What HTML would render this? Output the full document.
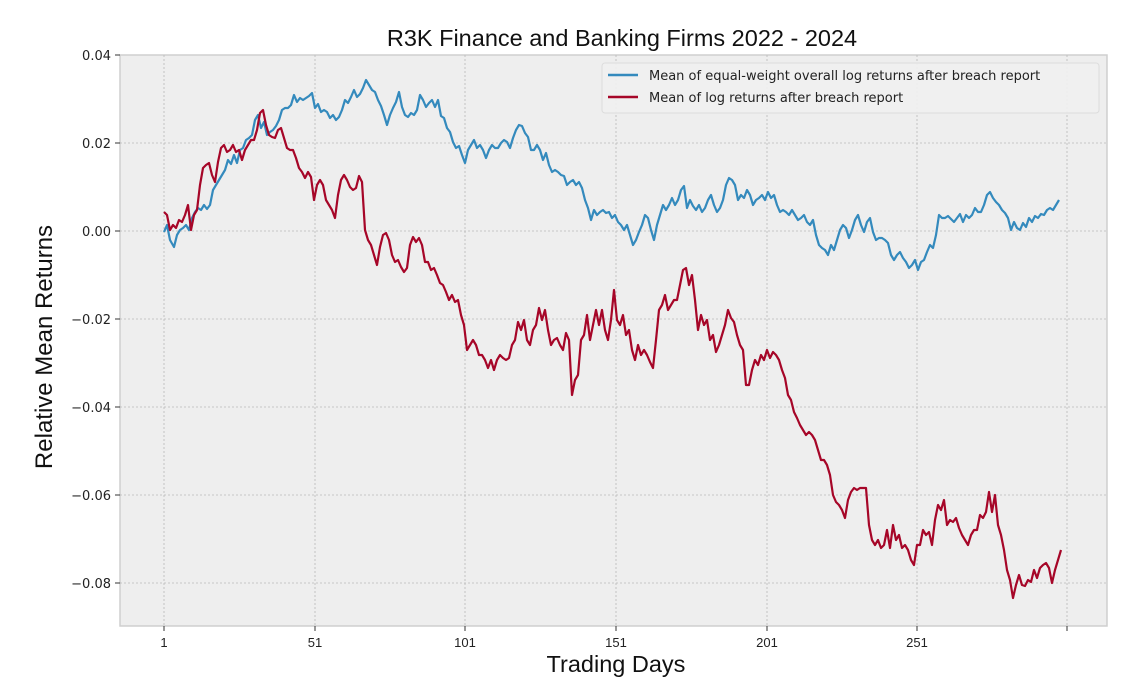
<!DOCTYPE html>
<html><head><meta charset="utf-8"><style>
html,body{margin:0;padding:0;background:#fff;}
svg{display:block;}
</style></head><body>
<svg width="1145" height="696" xmlns="http://www.w3.org/2000/svg">
<rect width="1145" height="696" fill="#fff"/>
<rect x="120" y="55" width="987" height="571" fill="#eeeeee" stroke="#cfcfcf" stroke-width="1.5"/>
<g stroke="#b8b8b8" stroke-width="0.8" stroke-dasharray="2,2">
<line x1="164" y1="55" x2="164" y2="626"/><line x1="315" y1="55" x2="315" y2="626"/><line x1="465" y1="55" x2="465" y2="626"/><line x1="616" y1="55" x2="616" y2="626"/><line x1="767" y1="55" x2="767" y2="626"/><line x1="917" y1="55" x2="917" y2="626"/><line x1="1067" y1="55" x2="1067" y2="626"/>
<line x1="120" y1="143" x2="1107" y2="143"/><line x1="120" y1="231" x2="1107" y2="231"/><line x1="120" y1="319" x2="1107" y2="319"/><line x1="120" y1="407" x2="1107" y2="407"/><line x1="120" y1="495" x2="1107" y2="495"/><line x1="120" y1="583" x2="1107" y2="583"/>
</g>
<g stroke="#333" stroke-width="1">
<line x1="115" y1="55" x2="120" y2="55"/><line x1="115" y1="143" x2="120" y2="143"/><line x1="115" y1="231" x2="120" y2="231"/><line x1="115" y1="319" x2="120" y2="319"/><line x1="115" y1="407" x2="120" y2="407"/><line x1="115" y1="495" x2="120" y2="495"/><line x1="115" y1="583" x2="120" y2="583"/>
<line x1="164" y1="626" x2="164" y2="631"/><line x1="315" y1="626" x2="315" y2="631"/><line x1="465" y1="626" x2="465" y2="631"/><line x1="616" y1="626" x2="616" y2="631"/><line x1="767" y1="626" x2="767" y2="631"/><line x1="917" y1="626" x2="917" y2="631"/><line x1="1067" y1="626" x2="1067" y2="631"/>
</g>
<g font-family="DejaVu Sans, sans-serif" font-size="13" fill="#222" text-anchor="end">
<text x="111" y="60">0.04</text><text x="111" y="148">0.02</text><text x="111" y="236">0.00</text><text x="111" y="324">−0.02</text><text x="111" y="412">−0.04</text><text x="111" y="500">−0.06</text><text x="111" y="588">−0.08</text>
</g>
<g font-family="Liberation Sans, sans-serif" font-size="13" fill="#222" text-anchor="middle">
<text x="164" y="647">1</text><text x="315" y="647">51</text><text x="465" y="647">101</text><text x="616" y="647">151</text><text x="767" y="647">201</text><text x="917" y="647">251</text>
</g>
<text x="622" y="46" font-family="Liberation Sans, sans-serif" font-size="23.5" text-anchor="middle" fill="#111">R3K Finance and Banking Firms 2022 - 2024</text>
<text x="616" y="672" font-family="Liberation Sans, sans-serif" font-size="23.5" text-anchor="middle" fill="#111">Trading Days</text>
<text transform="translate(52,347) rotate(-90)" font-family="Liberation Sans, sans-serif" font-size="24" text-anchor="middle" fill="#111">Relative Mean Returns</text>
<polyline fill="none" stroke="#348abd" stroke-width="2.2" stroke-linejoin="round" points="164,232 167,225 170,240 174,247 177,235 180,230 183,228 186,225 189,230 192,218 195,212 198,208 201,210 204,205 207,209 210,205 213,190 216,185 219,180 222,175 225,170 228,160 231,164 234,155 237,163 240,150 243,148 246,140 249,138 252,135 255,120 258,115 261,128 264,122 267,135 270,132 273,130 276,126 279,120 282,110 285,108 288,108 291,105 294,95 297,102 300,98 303,100 306,98 309,96 312,93 315,108 318,104 321,112 324,110 327,112 330,118 333,115 336,120 339,117 342,110 345,100 348,103 351,97 354,90 357,97 360,94 363,88 366,80 369,85 372,90 375,92 378,100 381,106 384,115 387,125 390,115 393,108 396,102 399,92 402,107 405,115 408,117 411,113 414,115 417,110 420,95 423,100 426,107 429,103 432,100 435,107 438,100 441,116 444,118 447,128 450,132 453,142 456,148 459,146 462,155 465,163 468,150 471,145 474,140 477,148 480,145 483,150 486,158 489,150 492,145 495,148 498,148 501,143 504,140 507,142 510,148 513,138 516,130 519,125 522,126 525,133 528,137 531,150 534,150 537,145 540,150 543,160 546,153 549,165 552,172 555,170 558,172 561,175 564,176 567,185 570,182 573,180 576,185 579,182 582,188 585,200 588,208 591,220 594,210 597,215 600,212 603,210 606,213 609,212 612,218 615,215 618,222 621,225 624,230 627,225 630,235 633,245 636,240 639,232 642,225 645,215 648,218 651,230 654,240 657,225 660,215 663,205 666,210 669,205 672,198 675,205 678,200 681,190 684,186 687,208 690,200 693,206 696,210 699,205 702,212 705,208 708,200 711,195 714,205 717,212 720,208 723,200 726,185 729,178 732,180 735,185 738,200 741,195 744,198 747,190 750,195 753,205 756,200 759,198 762,195 765,200 768,192 771,198 774,195 777,205 780,212 783,210 786,212 789,215 792,210 795,215 798,220 801,218 804,215 807,222 810,225 813,220 816,235 819,245 822,248 825,250 828,255 831,245 834,250 837,240 840,230 843,225 846,228 849,238 852,230 855,220 858,215 861,225 864,232 867,222 870,218 873,232 876,240 879,238 882,238 885,240 888,243 891,255 894,260 897,255 900,252 903,258 906,262 909,268 912,265 915,260 918,270 921,262 924,260 927,252 930,245 933,248 936,235 939,215 942,218 945,218 948,216 951,219 954,222 957,218 960,214 963,222 966,215 969,218 972,215 975,208 978,212 981,212 984,205 987,195 990,192 993,198 996,202 999,205 1002,210 1005,213 1008,218 1011,230 1014,222 1017,228 1020,230 1023,223 1026,227 1029,218 1032,222 1035,216 1038,218 1041,214 1044,215 1047,210 1050,208 1053,210 1056,205 1059,200"/>
<polyline fill="none" stroke="#a60628" stroke-width="2.2" stroke-linejoin="round" points="164,212 167,215 170,230 173,225 176,228 179,220 182,222 185,215 188,205 191,230 194,215 197,210 200,185 203,168 206,165 209,163 212,175 215,182 218,162 221,148 224,145 227,152 230,150 233,145 236,152 239,150 242,160 245,150 248,145 251,140 254,140 257,130 260,113 263,110 266,125 269,135 272,137 275,138 278,130 281,128 284,138 287,148 290,150 293,150 296,158 299,168 302,172 305,178 308,172 311,177 314,200 317,185 320,180 323,185 326,200 329,205 332,210 335,218 338,195 341,180 344,175 347,180 350,187 353,190 356,188 359,176 362,182 365,230 368,240 371,245 374,255 377,265 380,247 383,235 386,233 389,240 392,255 395,262 398,260 401,267 404,272 407,268 410,245 413,237 416,242 419,238 422,245 425,262 428,262 431,270 434,268 437,275 440,283 443,285 446,292 449,300 452,295 455,302 458,300 461,315 464,325 467,350 470,345 473,340 476,345 479,355 482,355 485,360 488,368 491,360 494,370 497,360 500,355 503,358 506,360 509,358 512,345 515,340 518,322 521,330 524,320 527,340 530,345 533,330 536,325 539,308 542,320 545,310 548,330 551,345 554,340 557,338 560,345 563,350 566,333 569,340 572,395 575,380 578,375 581,340 584,335 587,315 590,340 593,325 596,310 599,325 602,310 605,330 608,340 611,320 614,290 617,320 620,325 623,315 626,335 629,330 632,350 635,360 638,345 641,355 644,350 647,355 650,362 653,368 656,340 659,310 662,305 665,295 668,310 671,305 674,300 677,300 680,285 683,270 686,268 689,285 692,275 695,300 698,330 701,315 704,325 707,320 710,340 713,335 716,352 719,345 722,335 725,325 728,310 731,318 734,322 737,335 740,345 743,350 746,385 749,385 752,370 755,360 758,365 761,355 764,360 767,350 770,358 773,352 776,355 779,360 782,370 785,378 788,395 791,400 794,412 797,418 800,425 803,430 806,435 809,432 812,435 815,440 818,450 821,460 824,460 827,465 830,475 833,495 836,502 839,505 842,510 845,518 848,500 851,492 854,488 857,490 860,488 863,488 866,488 869,525 872,540 875,545 878,540 881,548 884,545 887,530 890,548 893,525 896,540 899,535 902,548 905,545 908,550 911,560 914,565 917,545 920,545 923,530 926,535 929,532 932,545 935,520 938,505 941,510 944,500 947,525 950,520 953,522 956,518 959,528 962,535 965,540 968,545 971,535 974,530 977,530 980,515 983,518 986,512 989,492 992,512 995,495 998,525 1001,535 1004,550 1007,570 1010,580 1013,598 1016,585 1019,575 1022,585 1025,586 1028,580 1031,582 1034,570 1037,578 1040,568 1043,565 1046,563 1049,568 1052,583 1055,570 1058,560 1061,550"/>
<rect x="602" y="63" width="497" height="50" rx="3" fill="#efefef" fill-opacity="0.9" stroke="#dcdcdc"/>
<line x1="608" y1="75" x2="638" y2="75" stroke="#348abd" stroke-width="2.5"/>
<line x1="608" y1="97" x2="638" y2="97" stroke="#a60628" stroke-width="2.5"/>
<g font-family="DejaVu Sans, sans-serif" font-size="13" fill="#222">
<text x="649" y="80">Mean of equal-weight overall log returns after breach report</text>
<text x="649" y="102">Mean of log returns after breach report</text>
</g>
</svg>
</body></html>
